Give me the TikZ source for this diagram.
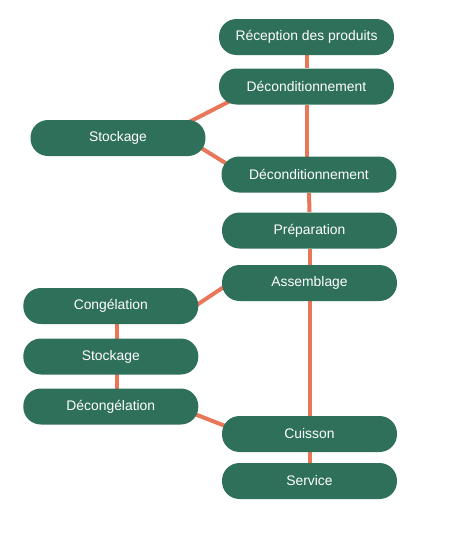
\documentclass[tikz,border=0pt]{standalone}
\usepackage{fontspec}
\setmainfont{Liberation Sans}
\usetikzlibrary{calc,backgrounds}
\definecolor{vertfonce}{RGB}{47,112,90}
\definecolor{saumon}{RGB}{232,119,90}

\begin{document}
\begin{tikzpicture}[x=0.02cm, y=-0.02cm,
		etape/.style={fill=vertfonce, text=white, rounded corners=0.35cm, minimum width=3.5cm, minimum height=0.72cm, inner sep=0pt, font=\fontsize{7.9}{9.5}\selectfont},
		lien/.style={draw=saumon, line width=0.08cm}]
		\useasboundingbox (0, 0) rectangle (474, 542);
		%%%%% ETAPES %%%%%
		\node[etape] (recep) at (306.5, 37) {Réception des produits};
		\node[etape] (decA) at (306.5, 86.5) {Déconditionnement};
		\node[etape] (stockA) at (118, 138) {Stockage};
		\node[etape] (decB) at (309, 174.5) {Déconditionnement};
		\node[etape] (prep) at (309.5, 230.5) {Préparation};
		\node[etape] (assem) at (309.5, 283) {Assemblage};
		
		\node[etape] (cong) at (110.8, 306) {Congélation};
		\node[etape] (stockB) at (110.8, 356.5) {Stockage};
		\node[etape] (decong) at (110.8, 406.5) {Décongélation};
		
		\node[etape] (cuis) at (309.5, 434) {Cuisson};
		\node[etape] (serv) at (309.5, 481) {Service};
		
		%%%%% LIENS %%%%%
		\begin{scope}[on background layer]
			\draw[lien] (recep) -- (decA);
			\draw[lien] (decA) -- (decA |- decB);
			\draw[lien] (decB) -- (prep);
			\draw[lien] (prep) -- (assem);
			\draw[lien] (assem) -- (cuis);
			\draw[lien] (cuis) -- (serv);
			
			\draw[lien] ($(decA)+(-66.5, 9.4)$) -- ($(stockA)+(62, -11.3)$);
			\draw[lien] ($(stockA)+(67, 0)$) -- ($(decB)+(-69, -2.5)$);
			
			\draw[lien] ($(assem)+(-69.5, -6.8)$) -- ($(cong)+(74.2, 6.8)$);
			\draw[lien] ($(cong)+(6, 0)$) -- ($(stockB)+(6, 0)$);
			\draw[lien] ($(stockB)+(6, 0)$) -- ($(decong)+(6, 0)$);
			\draw[lien] ($(decong)+(74.2, 3.7)$) -- ($(cuis)+(-69.5, -2.2)$);
		\end{scope}
	\end{tikzpicture}
\end{document}
